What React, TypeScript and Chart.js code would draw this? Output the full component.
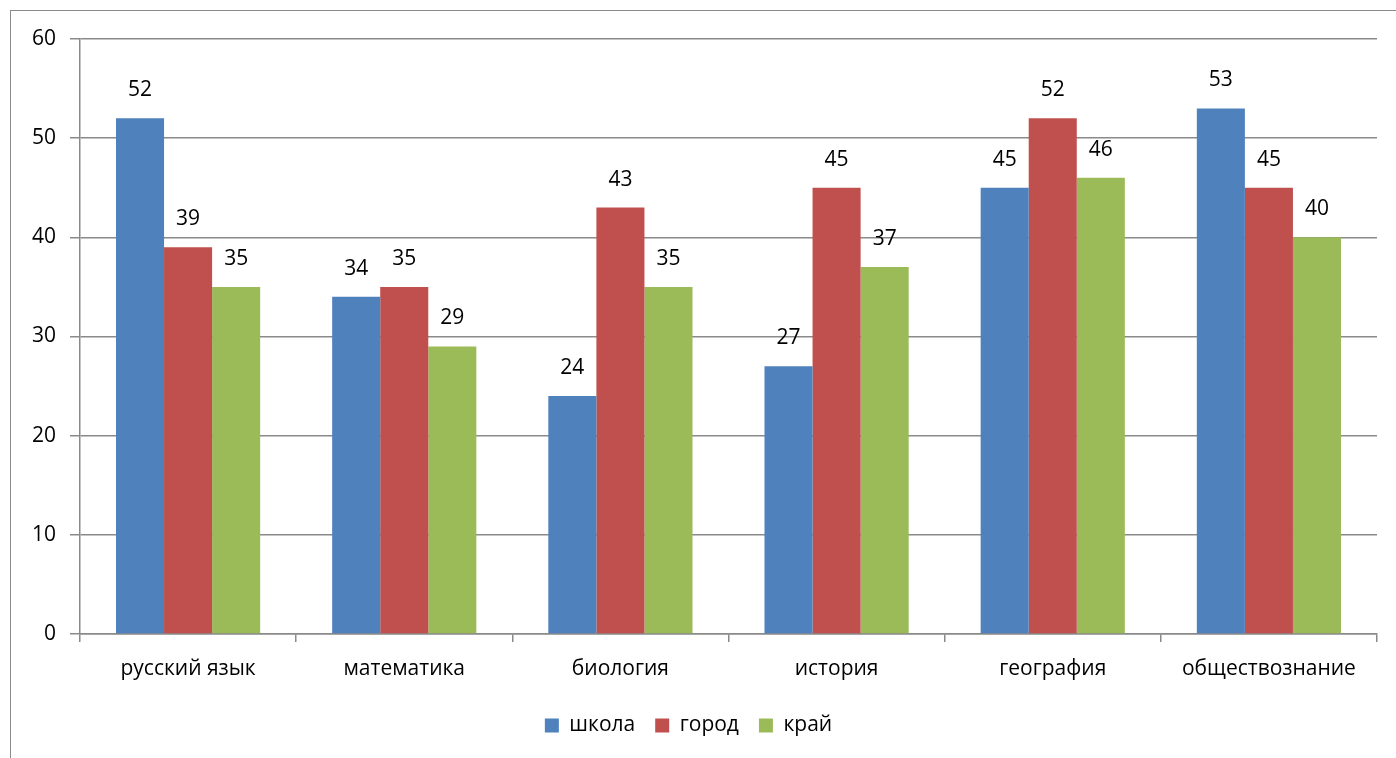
import React, { useEffect, useRef } from "react";
import { Chart, registerables } from "chart.js";

Chart.register(...registerables);

const categories = ["русский язык", "математика", "биология", "история", "география", "обществознание"];
const schoolValues = [52, 34, 24, 27, 45, 53];
const cityValues = [39, 35, 43, 45, 52, 45];
const regionValues = [35, 29, 35, 37, 46, 40];
const seriesNames = ["школа", "город", "край"];
const seriesColors = ["#4F81BD", "#C0504D", "#9BBB59"];

const FONT = "'Open Sans', 'DejaVu Sans', sans-serif";
const FS = 21;

const valueLabels = {
  id: "valueLabels",
  afterDatasetsDraw(chart: any) {
    const ctx = chart.ctx;
    ctx.save();
    ctx.font = `${FS}px ${FONT}`;
    ctx.fillStyle = "#000";
    ctx.textAlign = "center";
    ctx.textBaseline = "middle";
    chart.data.datasets.forEach((ds: any, i: number) => {
      const meta = chart.getDatasetMeta(i);
      meta.data.forEach((bar: any, j: number) => {
        ctx.fillText(String(ds.data[j]), bar.x, bar.y - 28);
      });
    });
    ctx.restore();
  },
};

export default function App() {
  const ref = useRef<HTMLCanvasElement>(null);
  useEffect(() => {
    if (!ref.current) return;
    const data = [schoolValues, cityValues, regionValues];
    const chart = new Chart(ref.current, {
      type: "bar",
      data: {
        labels: categories,
        datasets: data.map((d, i) => ({
          label: seriesNames[i],
          data: d,
          backgroundColor: seriesColors[i],
          borderWidth: 0,
          categoryPercentage: 0.667,
          barPercentage: 1.0,
        })),
      },
      options: {
        responsive: false,
        animation: false,
        events: [],
        layout: { padding: { top: 39, right: 19, left: 0, bottom: 12 } },
        plugins: {
          tooltip: { enabled: false },
          title: { display: false },
          legend: {
            position: "bottom",
            labels: {
              font: { family: FONT, size: FS },
              color: "#000",
              boxWidth: 14,
              boxHeight: 14,
              padding: 20,
            },
          },
        },
        scales: {
          x: {
            afterFit: (s: any) => { s.height = 61; },
            grid: {
              display: true,
              drawOnChartArea: false,
              drawTicks: true,
              tickLength: 8,
              color: "#8a8a8a",
              lineWidth: 1.5,
              offset: true,
            },
            border: { display: true, color: "#8a8a8a", width: 1.5 },
            ticks: { font: { family: FONT, size: FS }, color: "#000", padding: 14 },
          },
          y: {
            min: 0,
            max: 60,
            afterFit: (s: any) => { s.width = 80; },
            grid: { color: "#8a8a8a", lineWidth: 1.5, tickLength: 10 },
            border: { display: true, color: "#8a8a8a", width: 1.5 },
            ticks: { stepSize: 10, font: { family: FONT, size: FS }, color: "#000", padding: 14 },
          },
        },
      },
      plugins: [valueLabels],
    });
    return () => chart.destroy();
  }, []);

  return (
    <div style={{ position: "fixed", left: 0, top: 0, width: 1396, height: 758, background: "#fff", overflow: "hidden" }}>
      <div
        style={{
          position: "absolute",
          left: 10,
          top: 10,
          width: 1400,
          height: 760,
          borderLeft: "1.5px solid #8a8a8a",
          borderTop: "1.5px solid #8a8a8a",
        }}
      />
      <canvas ref={ref} width={1396} height={758} style={{ position: "absolute", left: 0, top: 0 }} />
    </div>
  );
}
